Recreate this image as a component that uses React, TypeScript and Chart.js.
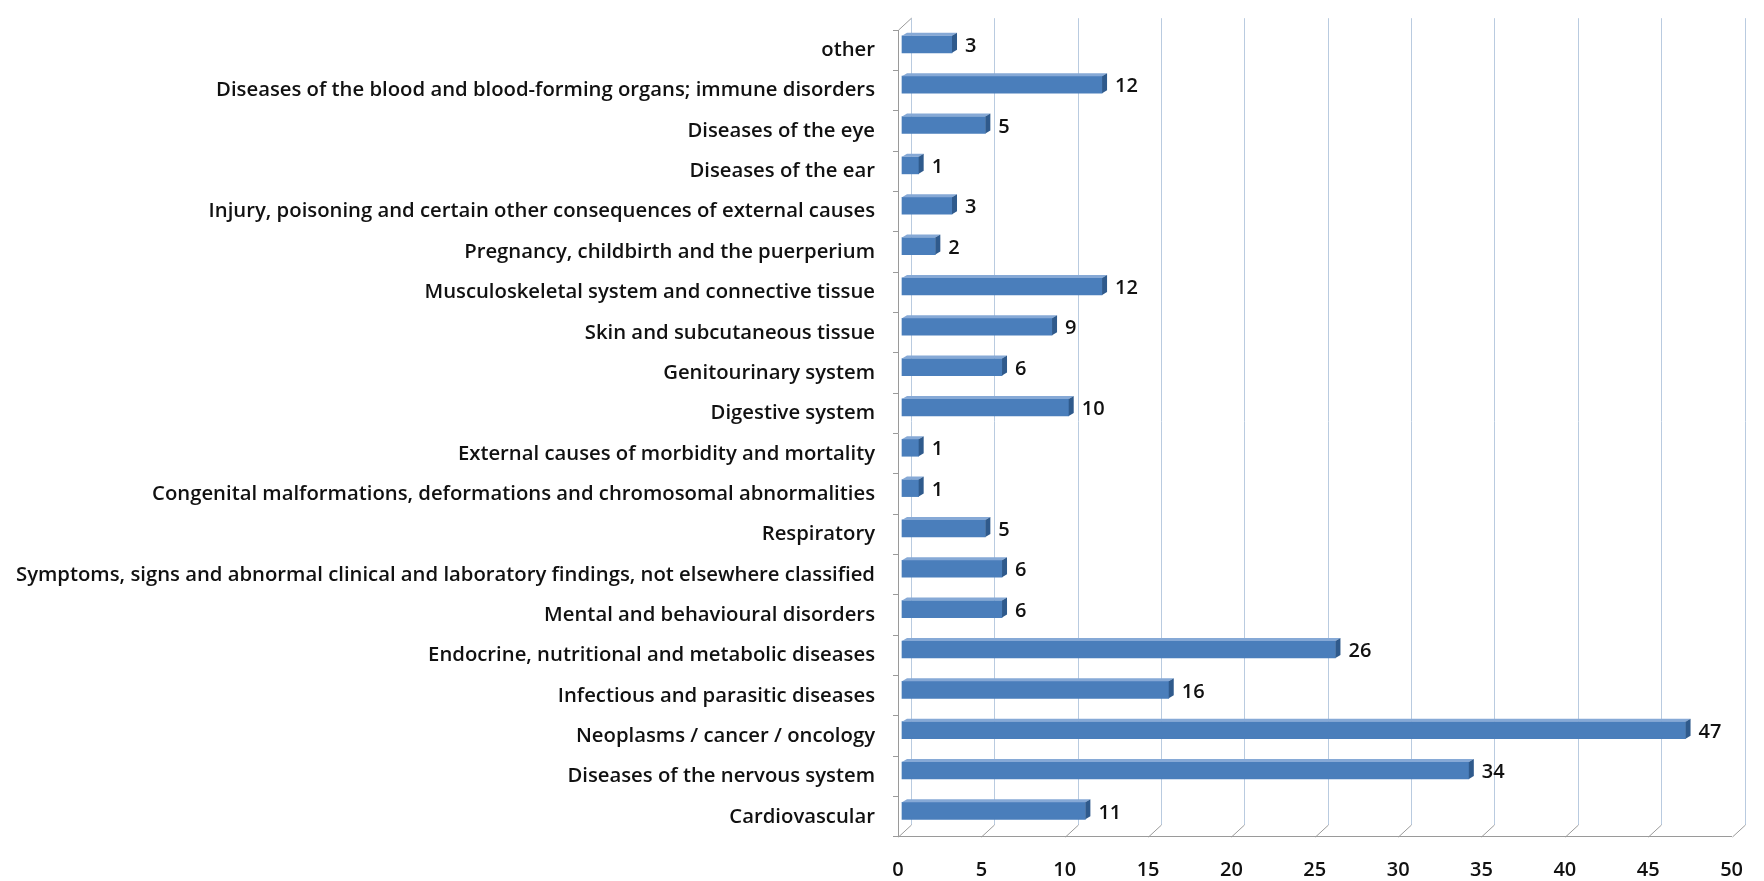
import React, { useEffect, useRef } from "react";
import { Chart, registerables } from "chart.js";

Chart.register(...registerables);

// Categories listed top to bottom
const categories = [
  "other",
  "Diseases of the blood and blood-forming organs; immune disorders",
  "Diseases of the eye",
  "Diseases of the ear",
  "Injury, poisoning and certain other consequences of external causes",
  "Pregnancy, childbirth and the puerperium",
  "Musculoskeletal system and connective tissue",
  "Skin and subcutaneous tissue",
  "Genitourinary system",
  "Digestive system",
  "External causes of morbidity and mortality",
  "Congenital malformations, deformations and chromosomal abnormalities",
  "Respiratory",
  "Symptoms, signs and abnormal clinical and laboratory findings, not elsewhere classified",
  "Mental and behavioural disorders",
  "Endocrine, nutritional and metabolic diseases",
  "Infectious and parasitic diseases",
  "Neoplasms / cancer / oncology",
  "Diseases of the nervous system",
  "Cardiovascular",
];

const counts = [3, 12, 5, 1, 3, 2, 12, 9, 6, 10, 1, 1, 5, 6, 6, 26, 16, 47, 34, 11];

const xTickValues = [0, 5, 10, 15, 20, 25, 30, 35, 40, 45, 50];

const FONT = "'Open Sans', Lato, sans-serif";
const TEXT = "#111111";
const AXIS = "#9a9a9a";
const WALL_GRID = "#b9cbe0";
const BAR_FRONT = "#4a7ebb";
const BAR_TOP = "#86a9d6";
const BAR_END = "#2f5a8c";

// oblique depth of the back wall and of the bars' front faces
const WALL_DX = 13;
const WALL_DY = 12;
const BAR_DX = 4;
const BAR_DY = 6;
const CAP_DX = 5;
const CAP_DY = 3;

const depthPlugin = {
  id: "depth3d",
  beforeDatasetsDraw(chart: any) {
    const { ctx, chartArea, scales } = chart;
    const { left, top, bottom } = chartArea;
    const x = scales.x;
    ctx.save();
    ctx.lineWidth = 1;
    for (const v of xTickValues) {
      const fx = Math.round(x.getPixelForValue(v)) + 0.5;
      const bx = fx + WALL_DX;
      ctx.strokeStyle = WALL_GRID;
      ctx.beginPath();
      ctx.moveTo(bx, top - WALL_DY);
      ctx.lineTo(bx, bottom - WALL_DY);
      ctx.stroke();
      ctx.strokeStyle = AXIS;
      ctx.beginPath();
      ctx.moveTo(fx, bottom);
      ctx.lineTo(bx, bottom - WALL_DY);
      ctx.stroke();
    }
    ctx.strokeStyle = AXIS;
    ctx.beginPath();
    ctx.moveTo(left + 0.5, top);
    ctx.lineTo(left + 0.5 + WALL_DX, top - WALL_DY);
    ctx.stroke();
    ctx.restore();

    ctx.save();
    ctx.translate(BAR_DX, -BAR_DY);
  },
  afterDatasetsDraw(chart: any) {
    const { ctx } = chart;
    const meta = chart.getDatasetMeta(0);
    meta.data.forEach((el: any) => {
      const { x, y, base, height } = el.getProps(["x", "y", "base", "height"], true);
      const t = y - height / 2;
      const b = y + height / 2;
      ctx.fillStyle = BAR_TOP;
      ctx.beginPath();
      ctx.moveTo(base, t);
      ctx.lineTo(x, t);
      ctx.lineTo(x + CAP_DX, t - CAP_DY);
      ctx.lineTo(base + CAP_DX, t - CAP_DY);
      ctx.closePath();
      ctx.fill();
      ctx.fillStyle = BAR_END;
      ctx.beginPath();
      ctx.moveTo(x, t);
      ctx.lineTo(x + CAP_DX, t - CAP_DY);
      ctx.lineTo(x + CAP_DX, b - CAP_DY);
      ctx.lineTo(x, b);
      ctx.closePath();
      ctx.fill();
    });
    ctx.restore();

    ctx.save();
    ctx.fillStyle = TEXT;
    ctx.font = `600 20px ${FONT}`;
    ctx.textAlign = "left";
    ctx.textBaseline = "middle";
    meta.data.forEach((el: any, i: number) => {
      const { x, y } = el.getProps(["x", "y"], true);
      ctx.fillText(String(counts[i]), x + BAR_DX + CAP_DX + 8, y - BAR_DY + 2);
    });
    ctx.restore();
  },
};

export default function App() {
  const ref = useRef<HTMLCanvasElement | null>(null);

  useEffect(() => {
    if (!ref.current) return;
    const chart = new Chart(ref.current, {
      type: "bar",
      data: {
        labels: categories,
        datasets: [
          {
            data: counts,
            backgroundColor: BAR_FRONT,
            borderWidth: 0,
            barThickness: 17,
            clip: false,
          } as any,
        ],
      },
      options: {
        indexAxis: "y",
        animation: false,
        responsive: false,
        layout: { padding: { left: 0, right: 25, top: 22, bottom: 0 } },
        plugins: {
          legend: { display: false },
          tooltip: { enabled: false },
        },
        scales: {
          x: {
            min: 0,
            max: 50,
            afterFit: (s: any) => {
              s.height = 44;
            },
            afterBuildTicks: (s: any) => {
              s.ticks = xTickValues.map((v) => ({ value: v }));
            },
            grid: { display: false, drawTicks: false },
            border: { display: true, color: AXIS, width: 1 },
            ticks: {
              padding: 21,
              color: TEXT,
              font: { family: FONT, size: 20, weight: "600" },
            },
          },
          y: {
            afterFit: (s: any) => {
              s.width = 898;
            },
            grid: {
              display: true,
              drawOnChartArea: false,
              drawTicks: true,
              tickLength: 5,
              color: AXIS,
              offset: true,
            },
            border: { display: true, color: AXIS, width: 1 },
            ticks: {
              padding: 18,
              color: TEXT,
              autoSkip: false,
              font: { family: FONT, size: 20.3, weight: "600" },
            },
          },
        },
      },
      plugins: [depthPlugin],
    });
    return () => chart.destroy();
  }, []);

  return (
    <div style={{ position: "fixed", left: 0, top: 0, width: 1764, height: 881, background: "#fff" }}>
      <canvas ref={ref} width={1764} height={881} />
    </div>
  );
}
